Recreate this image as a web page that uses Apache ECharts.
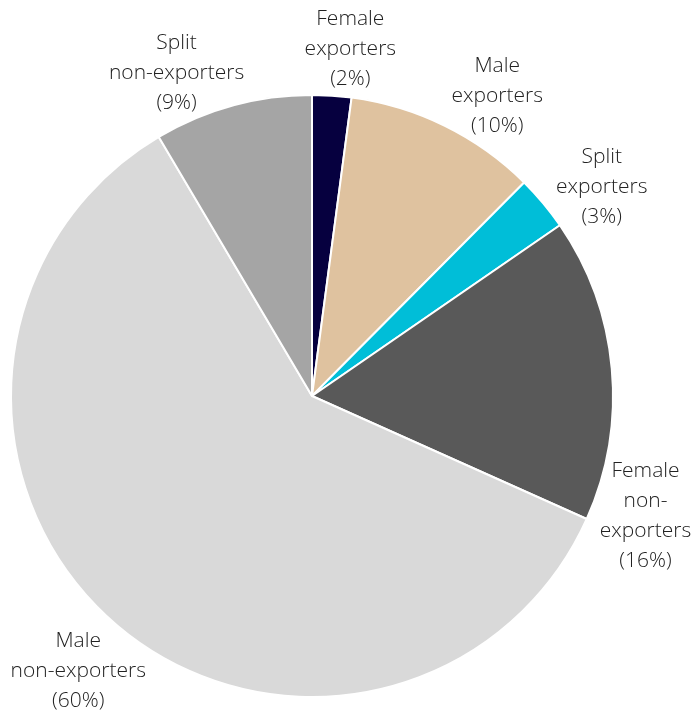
<!DOCTYPE html>
<html>
<head>
<meta charset="utf-8">
<script src="https://cdn.jsdelivr.net/npm/echarts@6/dist/echarts.min.js"></script>
<style>html,body{margin:0;padding:0;background:#fff;}#c{width:700px;height:716px;}</style>
</head>
<body>
<div id="c"></div>
<script>
// Data (slice order clockwise from 12 o'clock)
const categories = ["Female\nexporters", "Male\nexporters", "Split\nexporters", "Female\nnon-\nexporters", "Male\nnon-exporters", "Split\nnon-exporters"];
const shares = [2.1, 10.35, 2.95, 16.3, 59.8, 8.5];
const shareLabels = ["2%", "10%", "3%", "16%", "60%", "9%"];

// Styles
const colors = ["#06003f", "#dfc29f", "#00bed8", "#595959", "#d9d9d9", "#a5a5a5"];
const labelNudge = [[15, 6], [29, 18], [18, 18], [-19, 152], [2, 11], [-42, 18]];

const chart = echarts.init(document.getElementById('c'), null, {renderer: 'canvas'});
chart.setOption({
  animation: false,
  series: [{
    type: 'pie',
    center: [312, 396],
    radius: 301,
    startAngle: 90,
    clockwise: true,
    avoidLabelOverlap: false,
    itemStyle: {borderColor: '#ffffff', borderWidth: 2},
    label: {
      show: true,
      position: 'outside',
      distanceToLabelLine: 0,
      fontFamily: 'Open Sans',
      fontWeight: 300,
      fontSize: 21,
      lineHeight: 30,
      color: '#222222',
      align: 'center',
      formatter: p => p.name + '\n(' + shareLabels[p.dataIndex] + ')'
    },
    labelLine: {show: false, length: 53, length2: 0},
    labelLayout: p => ({
      dx: labelNudge[p.dataIndex][0],
      dy: labelNudge[p.dataIndex][1],
      align: 'center',
      verticalAlign: 'middle'
    }),
    emphasis: {disabled: true},
    data: categories.map((c, i) => ({name: c, value: shares[i], itemStyle: {color: colors[i]}}))
  }]
});
</script>
</body>
</html>
